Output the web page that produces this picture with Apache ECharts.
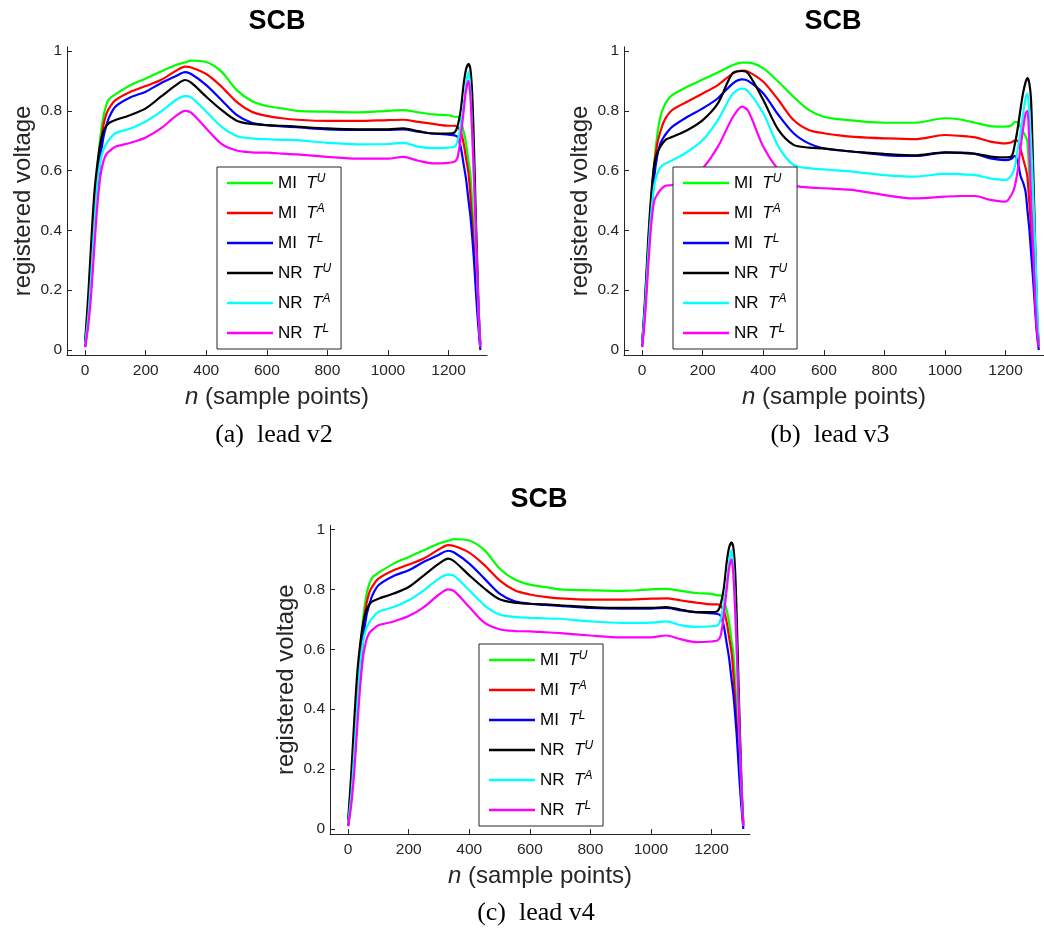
<!DOCTYPE html>
<html>
<head>
<meta charset="utf-8">
<script src="https://cdn.jsdelivr.net/npm/echarts@6/dist/echarts.min.js"></script>
<style>
html,body{margin:0;padding:0;background:#ffffff;}
#chart{width:1044px;height:931px;}
</style>
</head>
<body>
<div id="chart"></div>
<script>
// ---------------- data ----------------
const nSamples = [0,10,20,30,40,50,60,70,80,100,150,200,250,300,330,350,400,450,500,550,600,650,700,800,900,1000,1050,1100,1150,1200,1220,1230,1240,1250,1258,1266,1272,1278,1284,1290,1296,1300,1305,1310];

const seriesNames = ['MI T^U','MI T^A','MI T^L','NR T^U','NR T^A','NR T^L'];
const xTickValues = [0,200,400,600,800,1000,1200];
const yTickValues = [0,0.2,0.4,0.6,0.8,1];
const plotTitles = ['SCB','SCB','SCB'];
const captions = ['(a)  lead v2','(b)  lead v3','(c)  lead v4'];

// lead v2
const v2_MI_TU = [0.03,0.14,0.30,0.46,0.60,0.71,0.78,0.82,0.84,0.855,0.886,0.908,0.931,0.953,0.962,0.968,0.963,0.931,0.87,0.833,0.816,0.808,0.80,0.797,0.795,0.80,0.802,0.795,0.788,0.785,0.78,0.78,0.765,0.73,0.69,0.63,0.59,0.49,0.39,0.28,0.16,0.09,0.01,null];
const v2_MI_TA = [0.02,0.13,0.28,0.44,0.58,0.68,0.75,0.79,0.81,0.836,0.864,0.883,0.903,0.934,0.948,0.945,0.923,0.881,0.83,0.797,0.783,0.775,0.77,0.766,0.766,0.769,0.77,0.763,0.756,0.75,0.75,0.745,0.73,0.69,0.64,0.59,0.52,0.43,0.34,0.25,0.14,0.08,0.01,null];
const v2_MI_TL = [0.01,0.10,0.22,0.38,0.53,0.64,0.71,0.75,0.78,0.814,0.845,0.864,0.892,0.916,0.929,0.923,0.886,0.836,0.786,0.76,0.752,0.748,0.745,0.738,0.736,0.736,0.738,0.73,0.724,0.72,0.718,0.712,0.68,0.62,0.57,0.50,0.45,0.38,0.30,0.20,0.11,0.06,0.0,null];
const v2_NR_TU = [0.03,0.18,0.36,0.52,0.62,0.69,0.73,0.75,0.76,0.769,0.786,0.808,0.847,0.886,0.903,0.894,0.847,0.803,0.767,0.756,0.752,0.75,0.747,0.741,0.738,0.738,0.741,0.732,0.724,0.724,0.728,0.75,0.80,0.89,0.94,0.956,0.94,0.86,0.68,0.45,0.25,0.12,0.02,null];
const v2_NR_TA = [0.02,0.11,0.25,0.41,0.55,0.63,0.67,0.69,0.705,0.725,0.741,0.764,0.797,0.836,0.849,0.845,0.797,0.747,0.716,0.708,0.705,0.703,0.702,0.693,0.688,0.689,0.693,0.68,0.675,0.677,0.68,0.70,0.75,0.82,0.89,0.93,0.87,0.73,0.56,0.37,0.20,0.10,0.01,null];
const v2_NR_TL = [0.01,0.08,0.19,0.34,0.48,0.58,0.63,0.655,0.665,0.68,0.693,0.711,0.741,0.783,0.80,0.794,0.741,0.689,0.667,0.661,0.66,0.657,0.654,0.646,0.64,0.64,0.646,0.633,0.624,0.626,0.63,0.645,0.71,0.80,0.87,0.90,0.85,0.73,0.58,0.40,0.22,0.12,0.01,null];

// lead v3
const v3_MI_TU = [0.02,0.16,0.34,0.50,0.63,0.72,0.78,0.81,0.83,0.853,0.881,0.905,0.928,0.953,0.961,0.961,0.942,0.897,0.847,0.803,0.78,0.772,0.767,0.76,0.76,0.775,0.771,0.76,0.749,0.747,0.752,0.762,0.762,0.745,0.73,0.715,0.70,0.59,0.48,0.37,0.26,0.18,0.09,0.01];
const v3_MI_TA = [0.02,0.16,0.34,0.50,0.62,0.69,0.73,0.76,0.78,0.803,0.831,0.858,0.886,0.925,0.934,0.931,0.897,0.836,0.769,0.736,0.725,0.718,0.713,0.708,0.705,0.719,0.716,0.711,0.697,0.691,0.695,0.70,0.70,0.67,0.64,0.61,0.58,0.50,0.42,0.32,0.22,0.15,0.07,0.01];
const v3_MI_TL = [0.01,0.14,0.31,0.46,0.58,0.65,0.69,0.71,0.725,0.747,0.78,0.808,0.842,0.892,0.905,0.90,0.858,0.786,0.725,0.691,0.674,0.668,0.663,0.652,0.649,0.66,0.66,0.656,0.641,0.635,0.64,0.649,0.63,0.58,0.56,0.53,0.47,0.41,0.33,0.25,0.16,0.10,0.04,0.0];
const v3_NR_TU = [0.02,0.18,0.37,0.52,0.62,0.66,0.68,0.695,0.705,0.713,0.736,0.769,0.825,0.927,0.933,0.925,0.836,0.736,0.686,0.677,0.674,0.668,0.663,0.656,0.651,0.661,0.659,0.656,0.647,0.644,0.648,0.685,0.74,0.81,0.86,0.895,0.909,0.895,0.84,0.65,0.43,0.27,0.10,0.01];
const v3_NR_TA = [0.02,0.15,0.32,0.46,0.55,0.59,0.61,0.62,0.625,0.635,0.663,0.702,0.769,0.858,0.874,0.865,0.792,0.68,0.619,0.608,0.604,0.60,0.596,0.585,0.58,0.589,0.588,0.585,0.574,0.569,0.585,0.61,0.67,0.73,0.79,0.84,0.858,0.80,0.70,0.56,0.40,0.28,0.13,0.01];
const v3_NR_TL = [0.01,0.12,0.28,0.42,0.50,0.52,0.535,0.545,0.55,0.552,0.574,0.608,0.68,0.78,0.814,0.80,0.68,0.602,0.552,0.544,0.541,0.538,0.535,0.518,0.507,0.513,0.515,0.515,0.502,0.496,0.52,0.545,0.60,0.68,0.74,0.79,0.80,0.70,0.52,0.36,0.21,0.12,0.05,0.01];

// lead v4
const v4_MI_TU = [0.03,0.14,0.30,0.46,0.60,0.71,0.78,0.82,0.84,0.855,0.886,0.908,0.931,0.953,0.962,0.968,0.963,0.931,0.87,0.833,0.816,0.808,0.80,0.797,0.795,0.80,0.802,0.795,0.788,0.785,0.78,0.78,0.765,0.73,0.69,0.63,0.59,0.49,0.39,0.28,0.16,0.09,0.01,null];
const v4_MI_TA = [0.02,0.13,0.28,0.44,0.58,0.68,0.75,0.79,0.81,0.836,0.864,0.883,0.903,0.934,0.948,0.945,0.923,0.881,0.83,0.797,0.783,0.775,0.77,0.766,0.766,0.769,0.77,0.763,0.756,0.75,0.75,0.745,0.73,0.69,0.64,0.59,0.52,0.43,0.34,0.25,0.14,0.08,0.01,null];
const v4_MI_TL = [0.01,0.10,0.22,0.38,0.53,0.64,0.71,0.75,0.78,0.814,0.845,0.864,0.892,0.916,0.929,0.923,0.886,0.836,0.786,0.76,0.752,0.748,0.745,0.738,0.736,0.736,0.738,0.73,0.724,0.72,0.718,0.712,0.68,0.62,0.57,0.50,0.45,0.38,0.30,0.20,0.11,0.06,0.0,null];
const v4_NR_TU = [0.03,0.18,0.36,0.52,0.62,0.69,0.73,0.75,0.76,0.769,0.786,0.808,0.847,0.886,0.903,0.894,0.847,0.803,0.767,0.756,0.752,0.75,0.747,0.741,0.738,0.738,0.741,0.732,0.724,0.724,0.728,0.75,0.80,0.89,0.94,0.956,0.94,0.86,0.68,0.45,0.25,0.12,0.02,null];
const v4_NR_TA = [0.02,0.11,0.25,0.41,0.55,0.63,0.67,0.69,0.705,0.725,0.741,0.764,0.797,0.836,0.849,0.845,0.797,0.747,0.716,0.708,0.705,0.703,0.702,0.693,0.688,0.689,0.693,0.68,0.675,0.677,0.68,0.70,0.75,0.82,0.89,0.93,0.87,0.73,0.56,0.37,0.20,0.10,0.01,null];
const v4_NR_TL = [0.01,0.08,0.19,0.34,0.48,0.58,0.63,0.655,0.665,0.68,0.693,0.711,0.741,0.783,0.80,0.794,0.741,0.689,0.667,0.661,0.66,0.657,0.654,0.646,0.64,0.64,0.646,0.633,0.624,0.626,0.63,0.645,0.71,0.80,0.87,0.90,0.85,0.73,0.58,0.40,0.22,0.12,0.01,null];

const leads = [
  [v2_MI_TU, v2_MI_TA, v2_MI_TL, v2_NR_TU, v2_NR_TA, v2_NR_TL],
  [v3_MI_TU, v3_MI_TA, v3_MI_TL, v3_NR_TU, v3_NR_TA, v3_NR_TL],
  [v4_MI_TU, v4_MI_TA, v4_MI_TL, v4_NR_TU, v4_NR_TA, v4_NR_TL]
];

// ---------------- styling / layout ----------------
const lineColors = ['#00ff00','#ff0000','#0000ff','#000000','#00ffff','#ff00ff'];
const SANS = 'Liberation Sans, Arial, Helvetica, sans-serif';
const SERIF = 'Liberation Serif, Times New Roman, serif';
const AX = '#262626';

const grids = [
  {left: 67,  top: 46.8,  width: 420, height: 308.3},
  {left: 624, top: 46.8,  width: 420, height: 308.3},
  {left: 330, top: 525.3, width: 420, height: 308.8}
];
const titlePos = [[277, 22], [833, 22], [539, 500]];
const captionPos = [[274, 435], [830, 435], [536, 913]];
const legendPos = [[217, 167], [673, 167], [479, 644]];

const chart = echarts.init(document.getElementById('chart'), null, {renderer: 'canvas'});

const option = {
  animation: false,
  backgroundColor: '#ffffff',
  title: [],
  grid: grids.map(g => Object.assign({containLabel: false}, g)),
  xAxis: [],
  yAxis: [],
  legend: [],
  series: []
};

plotTitles.forEach((t, i) => {
  option.title.push({
    text: t, left: titlePos[i][0], top: titlePos[i][1], padding: 0,
    textAlign: 'center', textVerticalAlign: 'middle',
    textStyle: {fontSize: 27, fontWeight: 'bold', color: '#000', fontFamily: SANS}
  });
});
captions.forEach((t, i) => {
  option.title.push({
    text: t, left: captionPos[i][0], top: captionPos[i][1], padding: 0,
    textAlign: 'center', textVerticalAlign: 'middle',
    textStyle: {fontSize: 26, fontWeight: 'normal', color: '#000', fontFamily: SERIF}
  });
});

function legendLabel(name) {
  const parts = name.split(' ');
  const sup = parts[1].split('^')[1];
  return parts[0] + '  {it|T}{sup|' + sup + '}';
}

for (let i = 0; i < 3; i++) {
  option.xAxis.push({
    type: 'value', gridIndex: i, min: -60, max: 1327,
    name: '{it|n} (sample points)', nameLocation: 'middle', nameGap: 30,
    nameTextStyle: {fontSize: 24, color: AX, fontFamily: SANS,
      rich: {it: {fontSize: 24, fontStyle: 'italic', color: AX, fontFamily: SANS}}},
    axisLine: {show: true, onZero: false, lineStyle: {color: AX, width: 1}},
    axisTick: {show: true, inside: true, length: 5, customValues: xTickValues, lineStyle: {color: AX}},
    axisLabel: {show: true, customValues: xTickValues, fontSize: 15.5, color: AX, fontFamily: SANS, margin: 8,
      formatter: v => String(v)},
    splitLine: {show: false}
  });
  option.yAxis.push({
    type: 'value', gridIndex: i, min: -0.017, max: 1.014,
    name: 'registered voltage', nameLocation: 'middle', nameGap: 32,
    nameTextStyle: {fontSize: 24, color: AX, fontFamily: SANS},
    axisLine: {show: true, onZero: false, lineStyle: {color: AX, width: 1}},
    axisTick: {show: true, inside: true, length: 5, customValues: yTickValues, lineStyle: {color: AX}},
    axisLabel: {show: true, customValues: yTickValues, fontSize: 15.5, color: AX, fontFamily: SANS, margin: 5,
      formatter: v => String(v)},
    splitLine: {show: false}
  });
  option.legend.push({
    orient: 'vertical', left: legendPos[i][0], top: legendPos[i][1],
    data: seriesNames, selectedMode: false,
    icon: 'rect',
    itemWidth: 46, itemHeight: 2.5, itemGap: 10,
    padding: [6, 10, 6, 10],
    backgroundColor: '#ffffff', borderColor: AX, borderWidth: 1, borderRadius: 0,
    z: 10,
    formatter: legendLabel,
    textStyle: {fontSize: 17, color: '#000', fontFamily: SANS, lineHeight: 20,
      rich: {
        it: {fontSize: 17, fontStyle: 'italic', color: '#000', fontFamily: SANS, lineHeight: 20},
        sup: {fontSize: 12, fontStyle: 'italic', color: '#000', fontFamily: SANS, verticalAlign: 'top', lineHeight: 12}
      }}
  });
  leads[i].forEach((vals, k) => {
    option.series.push({
      type: 'line', name: seriesNames[k], xAxisIndex: i, yAxisIndex: i,
      data: nSamples.map((n, j) => [n, vals[j]]),
      symbol: 'none', showSymbol: false, smooth: 0.3, connectNulls: false,
      lineStyle: {color: lineColors[k], width: 2.2},
      itemStyle: {color: lineColors[k]},
      z: 2 + k * 0.01
    });
  });
}

chart.setOption(option);
</script>
</body>
</html>
